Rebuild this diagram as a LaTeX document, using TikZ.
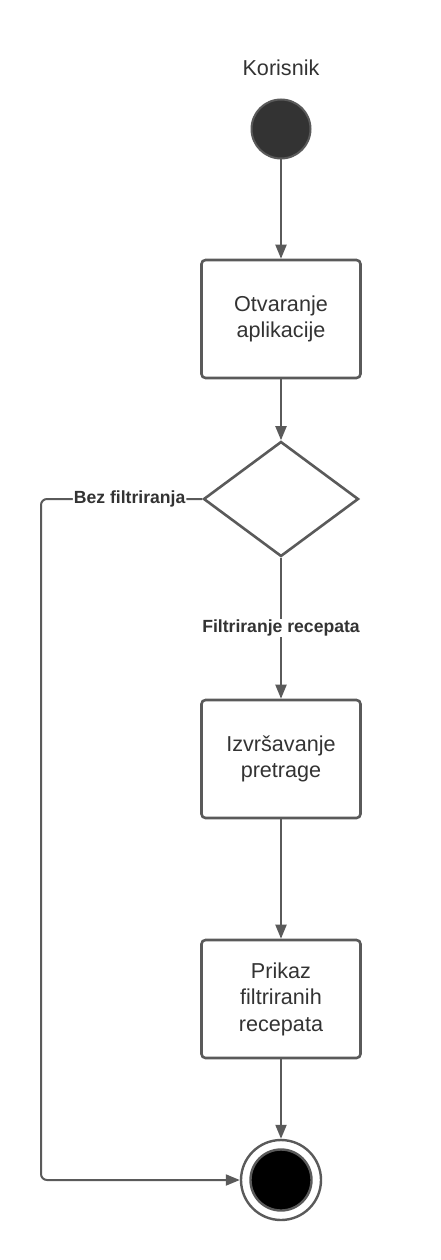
\documentclass[tikz,border=0pt]{standalone}
\usepackage{fontspec}
\setmainfont{Liberation Sans}
\usetikzlibrary{arrows.meta,shapes.geometric}
\definecolor{ln}{HTML}{5A5A5A}
\definecolor{tx}{HTML}{333333}
\begin{document}
\begin{tikzpicture}[x=1pt,y=-1pt,
  act/.style={draw=ln, line width=2.6pt, rounded corners=4pt, minimum width=159pt, minimum height=118pt, inner sep=0pt, align=center, text=tx, font=\fontsize{21.6}{26.5}\selectfont},
  dec/.style={diamond, draw=ln, line width=2.6pt, minimum width=155pt, minimum height=115pt, inner sep=0pt},
  arr/.style={draw=ln, line width=2pt, -{Triangle[length=14pt,width=11pt]}},
  lbl/.style={fill=white, text=tx, font=\bfseries\fontsize{17.6}{21}\selectfont, inner sep=1pt}
]
\useasboundingbox (0,0) rectangle (441,1260);
\node[text=tx, font=\fontsize{21.6}{25}\selectfont] (title) at (281,68) {Korisnik};
\node[circle, draw=ln, fill=tx, line width=2pt, minimum size=59pt, inner sep=0pt] (start) at (281,129) {};
\node[act] (b1) at (281,319) {Otvaranje\\aplikacije};
\node[dec] (d) at (281,499) {};
\node[act] (b2) at (281,759) {Izvršavanje\\pretrage};
\node[act] (b3) at (281,999) {Prikaz\\filtriranih\\recepata};
\node[circle, draw=ln, line width=2.4pt, minimum size=80pt, inner sep=0pt] (end) at (281,1180) {};
\node[circle, draw=ln, fill=black, line width=2.4pt, minimum size=61pt, inner sep=0pt] (endin) at (281,1180) {};
\coordinate (c1) at (41,499);
\coordinate (c2) at (41,1180);
\draw[arr] (start) -- (b1);
\draw[arr] (b1) -- (d);
\draw[arr] (d.south) -- node[lbl]{Filtriranje recepata} (b2.north);
\draw[arr] (b2) -- (b3);
\draw[arr] (b3) -- (end);
\draw[arr, rounded corners=6pt] (d.west) -- node[lbl, pos=0.45]{Bez filtriranja} (c1) -- (c2) -- (end.west);
\end{tikzpicture}
\end{document}
